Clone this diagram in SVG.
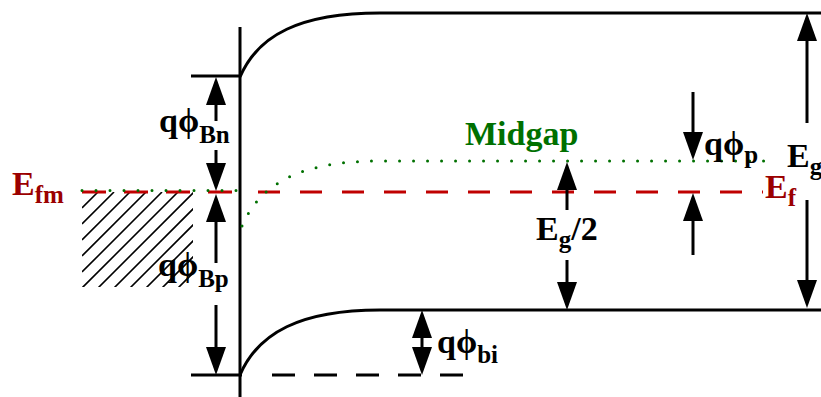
<svg xmlns="http://www.w3.org/2000/svg" width="821" height="397" viewBox="0 0 821 397">
<defs>
<style>
.band{fill:none;stroke:#000;stroke-width:3}
.arr{stroke:#000;stroke-width:3;fill:none;marker-end:url(#ah)}
.red{fill:#9b0000}
.green{fill:#007000}
.blk{fill:#000}
.lbl{font-family:"Liberation Serif","DejaVu Serif",serif;font-weight:bold;font-size:34px}
.sub{font-size:25px}
.hatch{stroke:#000;stroke-width:1.6}
</style>
<marker id="ah" markerUnits="userSpaceOnUse" markerWidth="28" markerHeight="20" refX="0" refY="10" orient="auto" viewBox="0 0 28 20">
<path d="M0,0 L28,10 L0,20 z" fill="#000"/>
</marker>
<clipPath id="hc"><rect x="82" y="192" width="111" height="95"/></clipPath>
</defs>
<g id="metal">
<g clip-path="url(#hc)">
<path class="hatch" d="M82,208 L98,192 M82,224 L114,192 M82,240 L130,192 M82,256 L146,192 M82,272 L162,192 M82,288 L178,192 M82,304 L194,192 M82,320 L210,192 M98,320 L226,192 M114,320 L242,192 M130,320 L258,192 M146,320 L274,192 M162,320 L290,192 M178,320 L306,192"/>
</g>
</g>
<g id="semiconductor">
<line class="band" x1="240" y1="27" x2="240" y2="397"/>
<line class="band" x1="191" y1="76" x2="240" y2="76"/>
<line class="band" x1="191" y1="375" x2="242" y2="375"/>
<path class="band" d="M240,77 C258,35 300,13 380,13 L821,13"/>
<path class="band" d="M240,375 C258,333 300,310 380,310 L821,310"/>
<line class="band" x1="272" y1="375" x2="463" y2="375" stroke-dasharray="23 19"/>
</g>
<g id="levels">
<line x1="82" y1="192" x2="240" y2="192" stroke="#c00000" stroke-width="3" stroke-dasharray="24 18"/>
<line x1="258" y1="192" x2="763" y2="192" stroke="#c00000" stroke-width="3" stroke-dasharray="22 20"/>
<line x1="82" y1="190.5" x2="240" y2="190.5" stroke="#007000" stroke-width="3" stroke-linecap="round" stroke-dasharray="0 14"/>
<path d="M242,226 C260,184 300,161 380,161 L764,161" fill="none" stroke="#007000" stroke-width="3" stroke-linecap="round" stroke-dasharray="0 14"/>
</g>
<g id="connectors">
<line class="arr" x1="216" y1="121" x2="216" y2="105"/>
<line class="arr" x1="216" y1="150" x2="216" y2="163"/>
<line class="arr" x1="216" y1="263" x2="216" y2="222"/>
<line class="arr" x1="216" y1="305" x2="216" y2="347"/>
<line class="arr" x1="567" y1="210" x2="567" y2="190"/>
<line class="arr" x1="567" y1="260" x2="567" y2="282"/>
<line class="arr" x1="422" y1="342" x2="422" y2="338"/>
<line class="arr" x1="422" y1="342" x2="422" y2="347"/>
<line class="arr" x1="693" y1="92" x2="693" y2="132"/>
<line class="arr" x1="693" y1="255" x2="693" y2="221"/>
<line class="arr" x1="807" y1="123" x2="807" y2="41"/>
<line class="arr" x1="807" y1="200" x2="807" y2="280"/>
</g>
<g id="labels">
<text class="lbl red" x="12" y="195">E<tspan class="sub" dy="8">fm</tspan></text>
<text class="lbl red" x="765" y="198">E<tspan class="sub" dy="8">f</tspan></text>
<text class="lbl green" x="465" y="145">Midgap</text>
<text class="lbl blk" x="159" y="132">qϕ<tspan class="sub" dy="11">Bn</tspan></text>
<text class="lbl blk" x="158" y="276">qϕ<tspan class="sub" dy="11">Bp</tspan></text>
<text class="lbl blk" x="536" y="240">E<tspan class="sub" dy="8">g</tspan><tspan dy="-8">/2</tspan></text>
<text class="lbl blk" x="437" y="353">qϕ<tspan class="sub" dy="10">bi</tspan></text>
<text class="lbl blk" x="704" y="155">qϕ<tspan class="sub" dy="8">p</tspan></text>
<text class="lbl blk" x="787" y="167">E<tspan class="sub" dy="8">g</tspan></text>
</g>
</svg>
